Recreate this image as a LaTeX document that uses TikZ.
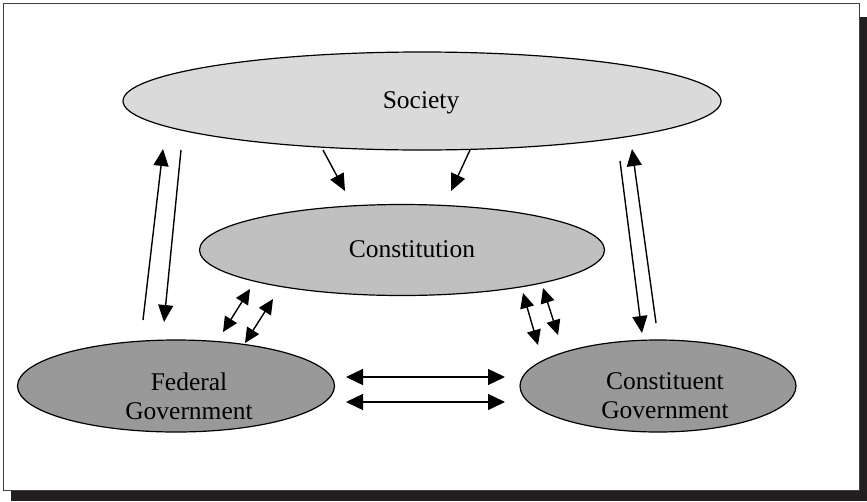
\documentclass[tikz,border=0pt]{standalone}
\usepackage{fontspec}
\setmainfont{Liberation Serif}
\usetikzlibrary{shapes.geometric,arrows.meta}
\definecolor{shadowc}{HTML}{231F20}
\definecolor{socfill}{HTML}{DADADA}
\definecolor{confill}{HTML}{C0C0C0}
\definecolor{govfill}{HTML}{999999}
\begin{document}
\begin{tikzpicture}[x=1pt,y=-1pt,
 oval/.style={ellipse,draw,line width=1.2pt,inner sep=0pt},
 lbl/.style={font=\fontsize{25.5}{29}\selectfont,align=center,inner sep=0pt},
 arr/.style={line width=1.4pt,-{Triangle[length=17pt,width=15pt]}},
 darr/.style={line width=1.4pt,{Triangle[length=15pt,width=14pt]}-{Triangle[length=15pt,width=14pt]}},
 harr/.style={line width=1.4pt,{Triangle[length=17pt,width=16pt]}-{Triangle[length=17pt,width=16pt]}}]
\useasboundingbox (0,0) rectangle (867,501);
\fill[shadowc] (11,17) rectangle (867,501);
\draw[fill=white,draw=black!75,line width=0.8pt] (3,3) rectangle (859,490);
% ellipses
\node[oval,fill=socfill,minimum width=598pt,minimum height=98pt] (soc) at (422,101) {};
\node[oval,fill=confill,minimum width=405pt,minimum height=91pt] (con) at (402,250) {};
\node[oval,fill=govfill,minimum width=317pt,minimum height=92pt] (fed) at (176,386) {};
\node[oval,fill=govfill,minimum width=276pt,minimum height=92pt] (cst) at (658,386) {};
% labels
\node[lbl,anchor=base] (socT) at (421,108) {Society};
\node[lbl,anchor=base] (conT) at (412,257) {Constitution};
\node[lbl] (fedT) at (189,396) {Federal\\Government};
\node[lbl] (cstT) at (665,396) {Constituent\\Government};
% arrow end points
\coordinate (s1a) at (323,150); \coordinate (s1b) at (345,191);
\coordinate (s2a) at (470,150); \coordinate (s2b) at (451,191);
\coordinate (l1a) at (143,320); \coordinate (l1b) at (163,149);
\coordinate (l2a) at (181,150); \coordinate (l2b) at (164,322);
\coordinate (r1a) at (620,161); \coordinate (r1b) at (642,333);
\coordinate (r2a) at (656,323); \coordinate (r2b) at (632,149);
\coordinate (fl1a) at (250,289); \coordinate (fl1b) at (223,332);
\coordinate (fl2a) at (273,299); \coordinate (fl2b) at (245,343);
\coordinate (cr1a) at (523,293); \coordinate (cr1b) at (538,345);
\coordinate (cr2a) at (543,288); \coordinate (cr2b) at (558,335);
\coordinate (h1a) at (346,377); \coordinate (h1b) at (505,377);
\coordinate (h2a) at (346,402); \coordinate (h2b) at (505,402);
% arrows
\draw[arr] (s1a) -- (s1b);
\draw[arr] (s2a) -- (s2b);
\draw[arr] (l1a) -- (l1b);
\draw[arr] (l2a) -- (l2b);
\draw[arr] (r1a) -- (r1b);
\draw[arr] (r2a) -- (r2b);
\draw[darr] (fl1a) -- (fl1b);
\draw[darr] (fl2a) -- (fl2b);
\draw[darr] (cr1a) -- (cr1b);
\draw[darr] (cr2a) -- (cr2b);
\draw[harr] (h1a) -- (h1b);
\draw[harr] (h2a) -- (h2b);
\end{tikzpicture}
\end{document}
